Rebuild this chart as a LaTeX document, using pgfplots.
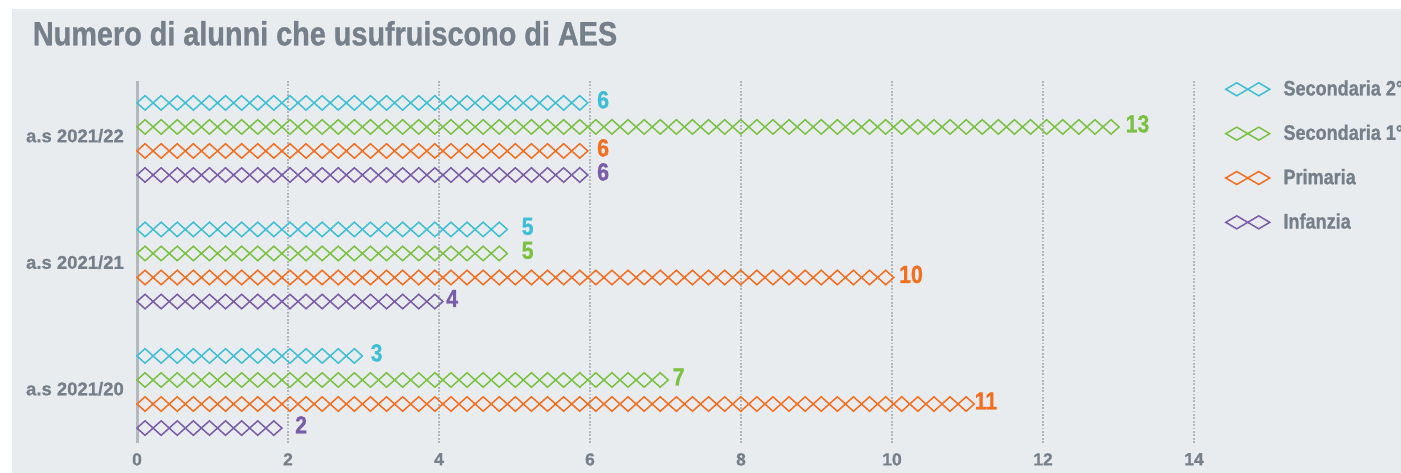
\documentclass[border=0pt]{standalone}
\usepackage{pgfplots}
\pgfplotsset{compat=1.18}
\usepackage{pgfplotstable}
\usepackage{fontspec}
\setmainfont{Liberation Sans}[FakeBold=0.8]
\newfontfamily\condfont{Liberation Sans}[FakeStretch=0.86, FakeBold=1]
\usetikzlibrary{decorations.shapes,shapes.geometric}

\definecolor{bggray}{HTML}{E9ECEF}
\definecolor{txtgray}{HTML}{76808A}
\definecolor{axisgray}{HTML}{B4B9BE}
\definecolor{gridgray}{HTML}{B2B7BC}
\definecolor{ccyan}{HTML}{3FBFD6}
\definecolor{cgreen}{HTML}{7BC143}
\definecolor{corange}{HTML}{F26F22}
\definecolor{cpurple}{HTML}{7A5DA8}

% columns: value, y position (category index + row offset)
\pgfplotstableread{
x y
6 2.285
5 1.285
3 0.285
}\secondaria
\pgfplotstableread{
x y
13 2.095
5 1.095
7 0.095
}\secprimo
\pgfplotstableread{
x y
6 1.905
10 0.905
11 -0.095
}\primaria
\pgfplotstableread{
x y
6 1.715
4 0.715
2 -0.285
}\infanzia

\pgfplotsset{
  dbar/.style={xcomb, color=#1, line width=1.5pt, forget plot,
    decorate, decoration={shape backgrounds, shape=diamond,
      pre=moveto, pre length=8.05pt,
      shape width=16.1pt, shape height=14.5pt, shape sep={16.1pt, between centers}}},
  dlab/.style={only marks, mark=none, forget plot,
    nodes near coords, point meta=x,
    nodes near coords style={anchor=base west, xshift=7pt, yshift=-5.4pt, inner sep=0pt,
      font=\condfont\bfseries\fontsize{24.7}{25}\selectfont, text=#1}},
  dleg/.style={legend image code/.code={
    \draw[line width=1.5pt, color=#1] (0pt,-1.3pt) -- (11pt,5.2pt) -- (22pt,-1.3pt) -- (11pt,-7.8pt) -- cycle
      (22pt,-1.3pt) -- (33pt,5.2pt) -- (44pt,-1.3pt) -- (33pt,-7.8pt) -- cycle;}},
}

\begin{document}
\begin{tikzpicture}[x=1pt,y=1pt]
\useasboundingbox (0,0) rectangle (1401,473);
\fill[bggray] (12,0) rectangle (1401,464);
\node[anchor=base west, inner sep=0pt, text=txtgray, font=\condfont\bfseries\fontsize{33.5}{34}\selectfont]
  at (32.7,427.7) {Numero di alunni che usufruiscono di AES};
\begin{axis}[
  at={(137pt,30pt)}, anchor=south west,
  scale only axis, width=1057pt, height=362pt,
  xmin=0, xmax=14, ymin=-0.403, ymax=2.458,
  clip=false,
  axis line style={draw=none},
  major tick length=0pt,
  xtick={2,4,...,14},
  extra x ticks={0},
  extra x tick style={major grid style={solid, color=axisgray, line width=3pt}},
  xmajorgrids,
  major grid style={color=gridgray, line width=2pt, dash pattern=on 1.8pt off 1.6pt},
  ytick={0,1,2},
  yticklabels={a.s 2021/20, a.s 2021/21, a.s 2021/22},
  /pgf/number format/assume math mode=true,
  xticklabel style={anchor=north, inner sep=0pt, yshift=-10pt,
    font=\bfseries\fontsize{17.5}{18}\selectfont, text=txtgray},
  yticklabel style={anchor=base east, inner sep=0pt, xshift=-13pt, yshift=-3.3pt,
    font=\bfseries\fontsize{18.5}{19}\selectfont, text=txtgray},
  legend style={at={(rel axis cs:1.02933,1.0014)}, anchor=north west, draw=none, fill=none,
    inner sep=0pt, outer sep=0pt, row sep=28.3pt, column sep=13pt,
    font=\condfont\bfseries\fontsize{21}{21}\selectfont, text=txtgray,
    nodes={inner sep=0pt, text height=15pt, text depth=0pt}},
  legend cell align=left,
]
% one diamond bar per value
\addplot[dbar=ccyan] coordinates {(6,2.285)};
\addplot[dbar=ccyan] coordinates {(5,1.285)};
\addplot[dbar=ccyan] coordinates {(3,0.285)};
\addplot[dbar=cgreen] coordinates {(13,2.095)};
\addplot[dbar=cgreen] coordinates {(5,1.095)};
\addplot[dbar=cgreen] coordinates {(7,0.095)};
\addplot[dbar=corange] coordinates {(6,1.905)};
\addplot[dbar=corange] coordinates {(10,0.905)};
\addplot[dbar=corange] coordinates {(11,-0.095)};
\addplot[dbar=cpurple] coordinates {(6,1.715)};
\addplot[dbar=cpurple] coordinates {(4,0.715)};
\addplot[dbar=cpurple] coordinates {(2,-0.285)};
% value labels
\addplot[dlab=ccyan] table {\secondaria};
\addplot[dlab=cgreen] table {\secprimo};
\addplot[dlab=corange] table {\primaria};
\addplot[dlab=cpurple] table {\infanzia};

\addlegendimage{dleg=ccyan}\addlegendentry{Secondaria 2°}
\addlegendimage{dleg=cgreen}\addlegendentry{Secondaria 1°}
\addlegendimage{dleg=corange}\addlegendentry{Primaria}
\addlegendimage{dleg=cpurple}\addlegendentry{Infanzia}
\end{axis}
\end{tikzpicture}
\end{document}
